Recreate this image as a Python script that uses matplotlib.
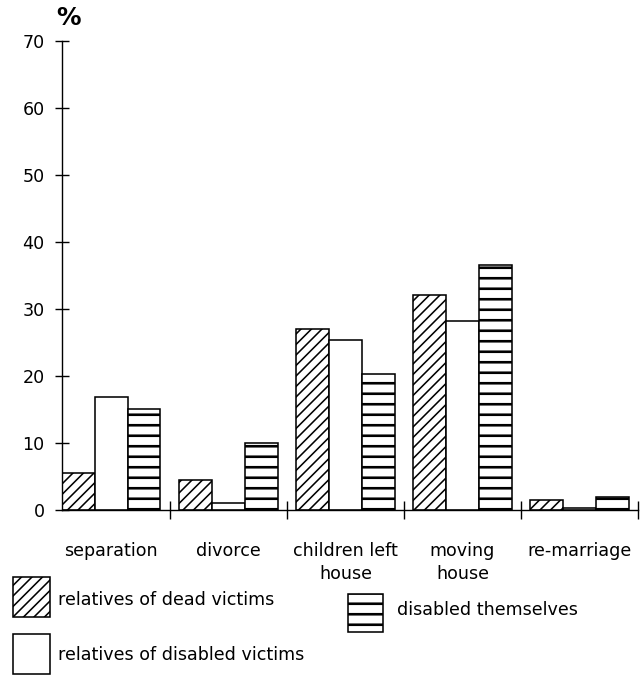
import numpy as np
import matplotlib.pyplot as plt
from matplotlib.patches import Rectangle

categories = ['separation', 'divorce', 'children left\nhouse', 'moving\nhouse', 're-marriage']
dead_victims = [5.5, 4.5, 27.0, 32.0, 1.5]
disabled_victims = [16.9, 1.0, 25.4, 28.2, 0.3]
disabled_themselves = [15.0, 10.0, 20.3, 36.5, 2.0]
yticks = [0, 10, 20, 30, 40, 50, 60, 70]

plt.rcParams['hatch.linewidth'] = 1.0
plt.rcParams['font.family'] = ['DejaVu Sans']

dpi = 126
W, H = 642, 677
fig = plt.figure(figsize=((W + 0.2) / dpi, (H + 0.2) / dpi), dpi=dpi)
ax = fig.add_axes([62 / W, 1 - 510 / H, 576 / W, 469 / H])

diag_lw = 0.9
horiz_lw = 1.5


def thick(patches, w):
    # heavier hatch strokes for the horizontal pattern
    for p in patches:
        if hasattr(p, 'set_hatch_linewidth'):
            p.set_hatch_linewidth(w)


x = np.arange(len(categories))
bw = 0.28
lw = 0.9
b1 = ax.bar(x + 0.08, dead_victims, bw, align='edge', facecolor='white',
            edgecolor='black', hatch='////', linewidth=lw)
ax.bar(x + 0.08 + bw, disabled_victims, bw, align='edge', facecolor='white',
       edgecolor='black', linewidth=lw)
b3 = ax.bar(x + 0.08 + 2 * bw, disabled_themselves, bw, align='edge', facecolor='white',
            edgecolor='black', hatch='--', linewidth=lw)
thick(b1, diag_lw)
thick(b3, horiz_lw)

ax.set_xlim(0.08, 5.0)
ax.set_ylim(0, 70)
for s in ['top', 'right']:
    ax.spines[s].set_visible(False)
ax.spines['left'].set_linewidth(0.8)
ax.spines['bottom'].set_linewidth(0.8)

ax.set_yticks(yticks)
ax.tick_params(axis='y', direction='inout', length=8, width=0.8, pad=6, labelsize=10)
ax.set_xticks(x + 0.5)
ax.set_xticklabels(categories, linespacing=1.35)
ax.set_xticks(np.arange(1, 6), minor=True)
ax.tick_params(axis='x', which='major', length=0, pad=18, labelsize=10)
ax.tick_params(axis='x', which='minor', direction='inout', length=10, width=0.8)

fig.text(68 / W, 1 - 18 / H, '%', fontsize=14, fontweight='bold', ha='center', va='center')


# legend
def swatch(x0, y0, w, h, hatch, hlw, label, tx, ty):
    r = Rectangle((x0 / W, 1 - (y0 + h) / H), w / W, h / H,
                  transform=fig.transFigure, facecolor='white',
                  edgecolor='black', hatch=hatch, linewidth=lw)
    thick([r], hlw)
    fig.add_artist(r)
    fig.text(tx / W, 1 - ty / H, label, fontsize=10, ha='left', va='center')


swatch(13, 577, 37, 40, '////', diag_lw, 'relatives of dead victims', 58, 600)
swatch(13, 634, 37, 40, None, diag_lw, 'relatives of disabled victims', 58, 655)
swatch(348, 594, 35, 38, '--', horiz_lw, 'disabled themselves', 397, 610)

fig.savefig('out.png', dpi=dpi)
